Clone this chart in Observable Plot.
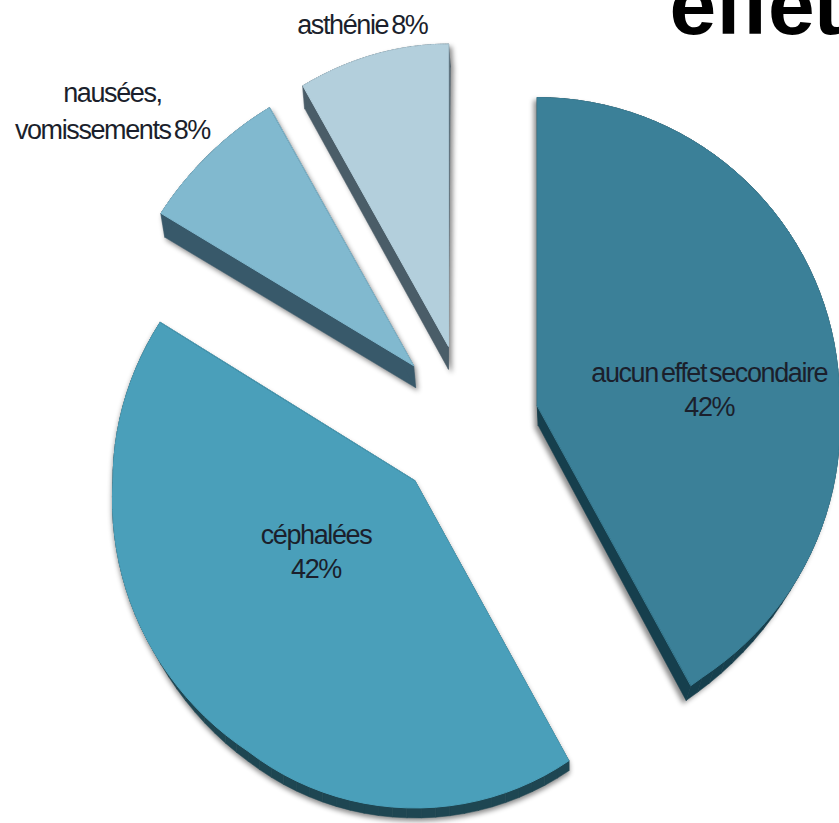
<!DOCTYPE html>
<html>
<head>
<meta charset="utf-8">
<script src="https://cdn.jsdelivr.net/npm/d3@7"></script>
<script src="https://cdn.jsdelivr.net/npm/@observablehq/plot@0.6"></script>
<style>
  html, body { margin: 0; padding: 0; background: #fff; overflow: hidden; }
</style>
</head>
<body>
<div id="chart"></div>
<script>
// Side effects reported, as shares of the patients
const categories = ["aucun effet secondaire", "céphalées", "nausées, vomissements", "asthénie"];
const shares = [42, 42, 8, 8];
const labelLines = ["aucun effet secondaire\n42%", "céphalées\n42%", "nausées,\nvomissements 8%", "asthénie 8%"];
const faceColors = ["#3b8098", "#4a9fba", "#81b9cf", "#b3cfdc"];
const sideColors = ["#163f4d", "#1e4652", "#38596a", "#4a5d68"];
const titleText = "effets";

// Pie layout in pixels
const W = 839, H = 823;
const pieX = 467, pieY = 427;
const radii = [302, 302, 299, 302];
const explodeX = [72, 72, 79, 77];
const explodeY = [88, 78, 85, 84];
const topBulge = [0.02, 0, 0, 0];
const farSqueeze = [0, 0.03, 0.07, 0.07];
const depthInner = [[1, 20], [0, 12], [2, 22], [0, 23]];
const depthOuter = [[-5, 15], [0, 10], [4, 24], [2, 23]];
const shadowDx = [-3, 0, 2, 3];
const labelOffset = [[172, -18], [-99, 69], [-301, -257], [-86, -324]];

// The rim swells toward the viewer at the bottom of the tilted disc
const lowerSwell = d3.scaleLinear().domain([0, 0.85, 1]).range([0, 0.052, 0.083]);
const rimPoint = (ax, ay, a, i) => {
  const c = Math.cos(a), s = Math.sin(a);
  const r = radii[i] * (1 + (c < 0 ? lowerSwell(-c) : topBulge[i] * c));
  // The far left of the disc is foreshortened vertically
  const squeeze = c > 0 && s < 0 ? 1 - farSqueeze[i] * s * s : 1;
  return {x: ax + r * s, y: ay - r * c * squeeze, rim: true, a};
};

const total = d3.sum(shares);
let running = 0;
const slices = shares.map((v, i) => {
  const start = running / total * 2 * Math.PI;
  running += v;
  const end = running / total * 2 * Math.PI;
  const mid = (start + end) / 2;
  const ax = pieX + explodeX[i] * Math.sin(mid);
  const ay = pieY - explodeY[i] * Math.cos(mid);
  const rim = d3.range(0, 61).map((k) => rimPoint(ax, ay, start + (end - start) * k / 60, i));
  const outline = [{x: ax, y: ay, rim: false}, ...rim];
  return {i, name: categories[i], ax, ay, outline, large: v > 25};
});

// One quad per outline segment swept along the slice's depth vector;
// the wall of a large slice tapers away as its rim turns upward
function sideQuads(s) {
  const shift = (p) => {
    if (!p.rim) return {x: p.x + depthInner[s.i][0], y: p.y + depthInner[s.i][1]};
    const f = s.large ? Math.max(0, Math.min(1, (-Math.cos(p.a) - 0.55) / 0.3)) : 1;
    return {x: p.x + f * depthOuter[s.i][0], y: p.y + f * depthOuter[s.i][1]};
  };
  const rows = s.outline.map((p) => ({quad: -1, x: p.x, y: p.y}));
  s.outline.forEach((p, k) => {
    const q = s.outline[(k + 1) % s.outline.length];
    [p, q, shift(q), shift(p)].forEach((c) => rows.push({quad: k, x: c.x, y: c.y}));
  });
  return rows;
}

const marks = [];
slices.forEach((s) => {
  marks.push(Plot.line(sideQuads(s), {
    x: "x", y: "y", z: "quad",
    curve: "linear-closed",
    fill: sideColors[s.i], stroke: sideColors[s.i], strokeWidth: 0.5,
    imageFilter: `drop-shadow(${shadowDx[s.i]}px 3px 2.5px rgba(0,0,0,0.45))`
  }));
  marks.push(Plot.line(s.outline, {
    x: "x", y: "y",
    curve: "linear-closed",
    fill: faceColors[s.i], stroke: faceColors[s.i], strokeWidth: 1
  }));
});

const labelRows = slices.map((s) => ({
  text: labelLines[s.i],
  x: s.ax + labelOffset[s.i][0],
  y: s.ay + labelOffset[s.i][1]
}));

const labelStyle = {
  x: "x", y: "y", text: "text",
  fontFamily: "'Liberation Sans', Arial, sans-serif",
  fontSize: 27, fill: "#1b1f2c", textAnchor: "middle"
};
marks.push(Plot.text(labelRows.slice(0, 2), {...labelStyle, lineHeight: 1.26}));
marks.push(Plot.text(labelRows.slice(2), {...labelStyle, lineHeight: 1.37}));

// Heading runs off the top right of the frame
marks.push(Plot.text([titleText], {
  x: () => 669, y: () => 33,
  text: (d) => d,
  textAnchor: "start", lineAnchor: "bottom",
  fontFamily: "'Liberation Sans', Arial, sans-serif",
  fontWeight: "bold", fontSize: 84, fill: "#000"
}));

const chart = Plot.plot({
  width: W, height: H,
  margin: 0,
  style: {background: "#fff", letterSpacing: "-1.4px", wordSpacing: "-3px"},
  x: {domain: [0, W], range: [0, W], axis: null},
  y: {domain: [0, H], range: [0, H], axis: null},
  marks
});
document.getElementById("chart").append(chart);
</script>
</body>
</html>
